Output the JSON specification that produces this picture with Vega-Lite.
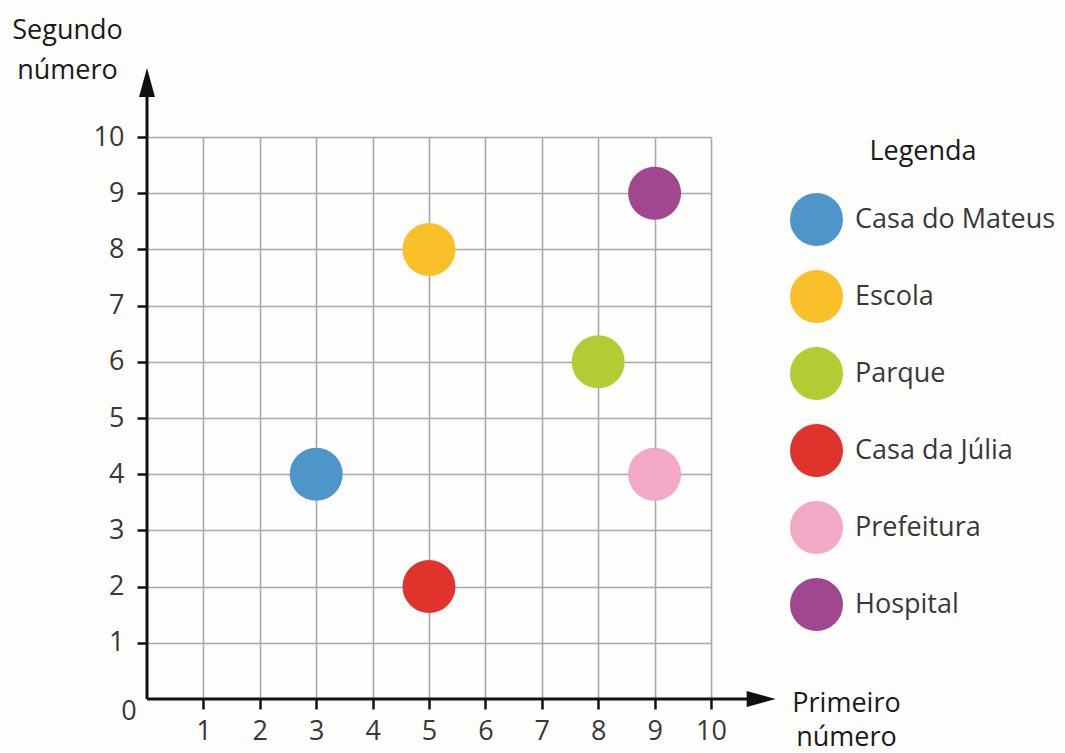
{
  "$schema": "https://vega.github.io/schema/vega-lite/v6.json",
  "width": 564,
  "height": 562,
  "autosize": {"type": "none"},
  "padding": {"left": 147, "top": 137, "right": 354, "bottom": 54},
  "background": "#fdfdfc",
  "config": {
    "font": "Open Sans",
    "view": {"stroke": null},
    "axis": {"labelFont": "Open Sans", "titleFont": "Open Sans"},
    "legend": {"labelFont": "Open Sans", "titleFont": "Open Sans"}
  },
  "datasets": {
    "places": [
      {"lugar": "Casa do Mateus", "primeiro": 3, "segundo": 4},
      {"lugar": "Escola", "primeiro": 5, "segundo": 8},
      {"lugar": "Parque", "primeiro": 8, "segundo": 6},
      {"lugar": "Casa da Júlia", "primeiro": 5, "segundo": 2},
      {"lugar": "Prefeitura", "primeiro": 9, "segundo": 4},
      {"lugar": "Hospital", "primeiro": 9, "segundo": 9}
    ],
    "axes": [
      {"eixo": "x", "x": 0, "y": 0, "x2": 10.89, "y2": 0},
      {"eixo": "y", "x": 0, "y": 0, "x2": 0, "y2": 10.97}
    ],
    "origin": [{"x": 0, "y": 0, "label": "0"}]
  },
  "layer": [
    {
      "data": {"name": "places"},
      "mark": {"type": "circle", "size": 2809, "opacity": 1, "strokeWidth": 0},
      "encoding": {
        "x": {
          "field": "primeiro", "type": "quantitative",
          "scale": {"domain": [0, 10], "nice": false, "zero": true},
          "axis": {
            "values": [1, 2, 3, 4, 5, 6, 7, 8, 9, 10],
            "format": "d",
            "domain": false,
            "grid": true, "gridColor": "#a8a8a8", "gridWidth": 1.6,
            "ticks": true, "tickSize": 10, "tickColor": "#111", "tickWidth": 2.5,
            "labelFontSize": 27, "labelColor": "#383838", "labelPadding": 9,
            "labelFlush": false,
            "title": ["Primeiro", "número"],
            "titleFontSize": 27, "titleFontWeight": "normal", "titleColor": "#1a1a1a",
            "titleAngle": 0, "titleAlign": "center", "titleBaseline": "alphabetic",
            "titleX": 699, "titleY": 12, "titleLineHeight": 34
          }
        },
        "y": {
          "field": "segundo", "type": "quantitative",
          "scale": {"domain": [0, 10], "nice": false, "zero": true},
          "axis": {
            "values": [1, 2, 3, 4, 5, 6, 7, 8, 9, 10],
            "format": "d",
            "domain": false,
            "grid": true, "gridColor": "#a8a8a8", "gridWidth": 1.6,
            "ticks": true, "tickSize": 10, "tickColor": "#111", "tickWidth": 2.5,
            "labelFontSize": 27, "labelColor": "#383838", "labelPadding": 13,
            "labelFlush": false,
            "title": ["Segundo", "número"],
            "titleFontSize": 27, "titleFontWeight": "normal", "titleColor": "#1a1a1a",
            "titleAngle": 0, "titleAlign": "center", "titleBaseline": "alphabetic",
            "titleX": -80, "titleY": -99, "titleLineHeight": 40
          }
        },
        "color": {
          "field": "lugar", "type": "nominal",
          "scale": {
            "domain": ["Casa do Mateus", "Escola", "Parque", "Casa da Júlia", "Prefeitura", "Hospital"],
            "range": ["#4e95c9", "#f9c02a", "#b2cc34", "#e0332b", "#f2a8c6", "#a0478f"]
          },
          "legend": {
            "orient": "none", "legendX": 643, "legendY": 2,
            "title": "Legenda", "titleFontSize": 27, "titleFontWeight": "normal",
            "titleColor": "#1a1a1a", "titleAnchor": "middle", "titlePadding": 27,
            "symbolType": "circle", "symbolSize": 2809, "symbolStrokeWidth": 0,
            "symbolOpacity": 1,
            "labelFontSize": 27, "labelColor": "#383838", "labelOffset": 12,
            "rowPadding": 24, "labelLimit": 400
          }
        }
      }
    },
    {
      "data": {"name": "axes"},
      "mark": {"type": "rule", "color": "#111", "strokeWidth": 3},
      "encoding": {
        "x": {"field": "x", "type": "quantitative", "scale": {"domain": [0, 10], "nice": false}},
        "y": {"field": "y", "type": "quantitative", "scale": {"domain": [0, 10], "nice": false}},
        "x2": {"field": "x2"},
        "y2": {"field": "y2"}
      }
    },
    {
      "data": {"name": "axes"},
      "mark": {"type": "point", "filled": true, "opacity": 1, "color": "#111", "size": 841, "strokeWidth": 0},
      "encoding": {
        "x": {"field": "x2", "type": "quantitative", "scale": {"domain": [0, 10], "nice": false}},
        "y": {"field": "y2", "type": "quantitative", "scale": {"domain": [0, 10], "nice": false}},
        "shape": {
          "field": "eixo", "type": "nominal",
          "scale": {"domain": ["x", "y"], "range": ["M-1,-0.55L1,0L-1,0.55Z", "M-0.55,1L0,-1L0.55,1Z"]},
          "legend": null
        }
      }
    },
    {
      "data": {"name": "origin"},
      "mark": {"type": "text", "fontSize": 27, "color": "#383838", "dx": -18, "dy": 13, "align": "center", "baseline": "middle"},
      "encoding": {
        "x": {"field": "x", "type": "quantitative", "scale": {"domain": [0, 10], "nice": false}},
        "y": {"field": "y", "type": "quantitative", "scale": {"domain": [0, 10], "nice": false}},
        "text": {"field": "label"}
      }
    }
  ]
}
